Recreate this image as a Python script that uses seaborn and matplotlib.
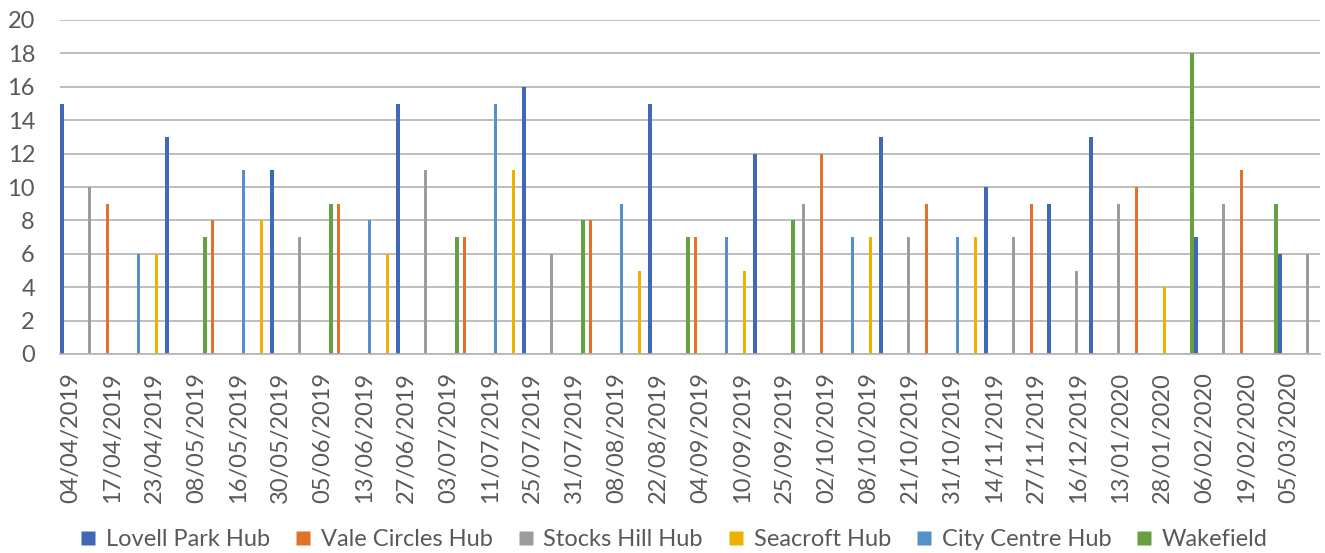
import matplotlib
matplotlib.use("Agg")
import matplotlib.pyplot as plt
import seaborn as sns
import pandas as pd
from matplotlib.lines import Line2D

dates = [
    "04/04/2019", "10/04/2019", "17/04/2019", "18/04/2019", "23/04/2019", "30/04/2019",
    "08/05/2019", "09/05/2019", "16/05/2019", "23/05/2019", "30/05/2019", "31/05/2019",
    "05/06/2019", "06/06/2019", "13/06/2019", "20/06/2019", "27/06/2019", "28/06/2019",
    "03/07/2019", "04/07/2019", "11/07/2019", "18/07/2019", "25/07/2019", "26/07/2019",
    "31/07/2019", "01/08/2019", "08/08/2019", "15/08/2019", "22/08/2019", "29/08/2019",
    "04/09/2019", "05/09/2019", "10/09/2019", "19/09/2019", "25/09/2019", "26/09/2019",
    "02/10/2019", "03/10/2019", "08/10/2019", "17/10/2019", "21/10/2019", "24/10/2019",
    "31/10/2019", "07/11/2019", "14/11/2019", "21/11/2019", "27/11/2019", "05/12/2019",
    "16/12/2019", "19/12/2019", "13/01/2020", "16/01/2020", "28/01/2020", "30/01/2020",
    "06/02/2020", "13/02/2020", "19/02/2020", "27/02/2020", "05/03/2020", "12/03/2020",
]

hubs = ["Lovell Park Hub", "Vale Circles Hub", "Stocks Hill Hub",
        "Seacroft Hub", "City Centre Hub", "Wakefield"]

L, V, S, SC, C, W = hubs
date_hub = [
    L, S, V, C, SC, L, W, V, C, SC,
    L, S, W, V, C, SC, L, S, W, V,
    C, SC, L, S, W, V, C, SC, L, W,
    V, C, SC, L, W, S, V, C, SC, L,
    S, V, C, SC, L, S, V, L, S, L,
    S, V, SC, W, L, S, V, W, L, S,
]
values = [
    15, 10, 9, 6, 6, 13, 7, 8, 11, 8,
    11, 7, 9, 9, 8, 6, 15, 11, 7, 7,
    15, 11, 16, 6, 8, 8, 9, 5, 15, 7,
    7, 7, 5, 12, 8, 9, 12, 7, 7, 13,
    7, 9, 7, 7, 10, 7, 9, 9, 5, 13,
    9, 10, 4, 18, 7, 9, 11, 9, 6, 6,
]

colors = ["#4068B8", "#E2722A", "#9C9C9C", "#F0B000", "#5590CA", "#66A040"]

df = pd.DataFrame({"Date": dates, "Hub": date_hub, "Count": values})

sns.set_theme(style="white")
plt.rcParams["font.family"] = ["Lato", "DejaVu Sans"]

fig = plt.figure(figsize=(13.25, 5.53), dpi=100)
ax = fig.add_axes([60 / 1325, 1 - 354 / 553, 1260 / 1325, 334 / 553])

sns.barplot(data=df, x="Date", y="Count", hue="Hub", order=dates,
            hue_order=hubs, palette=colors, dodge=True, width=0.97,
            gap=0.1, ax=ax, legend=False, saturation=1, errorbar=None,
            linewidth=0)

ax.set_xlim(-0.5, len(dates) - 0.5)
ax.set_ylim(0, 20)
ax.set_yticks(range(0, 21, 2))
ax.yaxis.grid(True, color="#b3b3b3", linewidth=1.2)
ax.set_axisbelow(True)
ax.set_xticks(range(0, len(dates), 2))
ax.set_xticklabels(dates[::2], rotation=90)
ax.set_xlabel("")
ax.set_ylabel("")
for s in ["top", "right", "left"]:
    ax.spines[s].set_visible(False)
ax.spines["bottom"].set_color("#b3b3b3")
ax.spines["bottom"].set_linewidth(1.2)
ax.tick_params(axis="y", length=0, pad=18, labelsize=17, labelcolor="#595959")
ax.tick_params(axis="x", length=0, pad=13, labelsize=17, labelcolor="#595959")

handles = [Line2D([], [], marker="s", linestyle="none", markersize=9.5,
                  markerfacecolor=c, markeredgecolor="none", label=h)
           for h, c in zip(hubs, colors)]
fig.legend(handles=handles, loc="center", bbox_to_anchor=(0.509, 1 - 540 / 553),
           ncol=6, frameon=False, fontsize=17, handlelength=0.6,
           handletextpad=0.45, columnspacing=1.1, labelcolor="#595959",
           borderaxespad=0, borderpad=0)

fig.savefig("out.png", dpi=100)
